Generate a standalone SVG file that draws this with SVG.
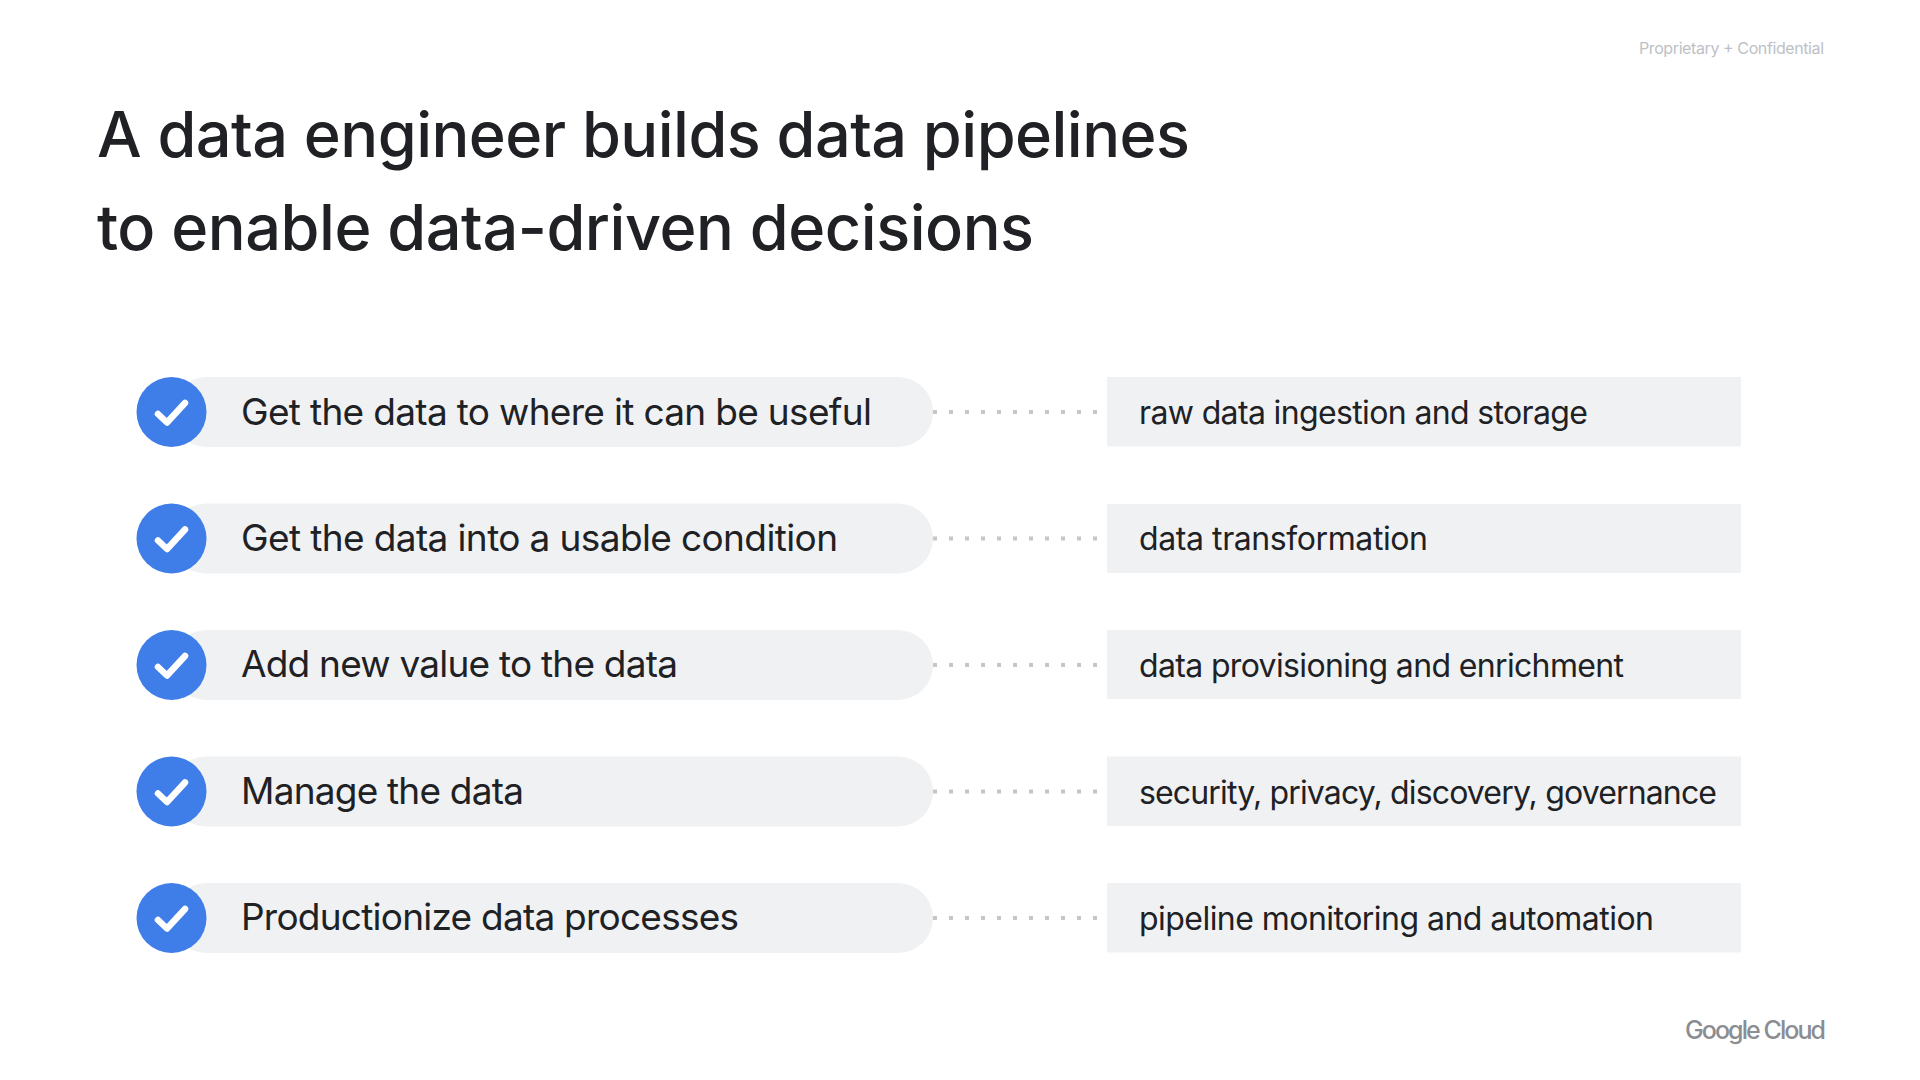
<svg xmlns="http://www.w3.org/2000/svg" width="1920" height="1080" viewBox="0 0 1920 1080">
<defs>
<style>
text{font-family:"Inter","Noto Sans","Liberation Sans",sans-serif}
.title{font-size:63px;font-weight:500;fill:#202124}
.lbl{font-size:37px;fill:#202124}
.sub{font-size:32px;fill:#202124}
.pill{fill:#f0f1f3}
.box{fill:#f0f1f3}
.dot{fill:none;stroke:#c6c6c6;stroke-width:4;stroke-dasharray:4 12}
.circ{fill:#3f7ee8}
.chk{fill:none;stroke:#fff;stroke-width:6.500;stroke-linecap:round;stroke-linejoin:round}
</style>
<g id="tick"><circle class="circ" cx="171.500" cy="0" r="35"/><path class="chk" d="M158 2L167 10.500L185 -9"/></g>
</defs>
<rect width="1920" height="1080" fill="#fff"/>
<text x="1824" y="54" text-anchor="end" font-size="16" fill="#bdc1c6" textLength="185">Proprietary + Confidential</text>
<text class="title" x="97" y="157" textLength="1093">A data engineer builds data pipelines</text>
<text class="title" x="97" y="250" textLength="937">to enable data-driven decisions</text>
<g id="connectors">
<path class="dot" d="M933 412H1100"/>
<path class="dot" d="M933 538.500H1100"/>
<path class="dot" d="M933 665H1100"/>
<path class="dot" d="M933 791.500H1100"/>
<path class="dot" d="M933 918H1100"/>
</g>
<g id="node1"><rect class="pill" x="171" y="377" width="762" height="70" rx="35"/><use href="#tick" y="412"/><text class="lbl" x="241" y="425" textLength="631">Get the data to where it can be useful</text></g>
<g id="node2"><rect class="pill" x="171" y="503.500" width="762" height="70" rx="35"/><use href="#tick" y="538.500"/><text class="lbl" x="241" y="551" textLength="597">Get the data into a usable condition</text></g>
<g id="node3"><rect class="pill" x="171" y="630" width="762" height="70" rx="35"/><use href="#tick" y="665"/><text class="lbl" x="241" y="677" textLength="437">Add new value to the data</text></g>
<g id="node4"><rect class="pill" x="171" y="756.500" width="762" height="70" rx="35"/><use href="#tick" y="791.500"/><text class="lbl" x="241" y="803.500" textLength="283">Manage the data</text></g>
<g id="node5"><rect class="pill" x="171" y="883" width="762" height="70" rx="35"/><use href="#tick" y="918"/><text class="lbl" x="241" y="930" textLength="498">Productionize data processes</text></g>
<g id="box1"><rect class="box" x="1107" y="377" width="634" height="69.500"/><text class="sub" x="1139" y="424" textLength="449">raw data ingestion and storage</text></g>
<g id="box2"><rect class="box" x="1107" y="504" width="634" height="69"/><text class="sub" x="1139" y="550" textLength="289">data transformation</text></g>
<g id="box3"><rect class="box" x="1107" y="630" width="634" height="69"/><text class="sub" x="1139" y="677" textLength="485">data provisioning and enrichment</text></g>
<g id="box4"><rect class="box" x="1107" y="756.500" width="634" height="69.500"/><text class="sub" x="1139" y="803.500" textLength="578">security, privacy, discovery, governance</text></g>
<g id="box5"><rect class="box" x="1107" y="883" width="634" height="69.500"/><text class="sub" x="1139" y="930" textLength="515">pipeline monitoring and automation</text></g>
<text x="1685" y="1039" font-size="25" font-weight="500" fill="#8a8d91" textLength="141">Google Cloud</text>
</svg>
